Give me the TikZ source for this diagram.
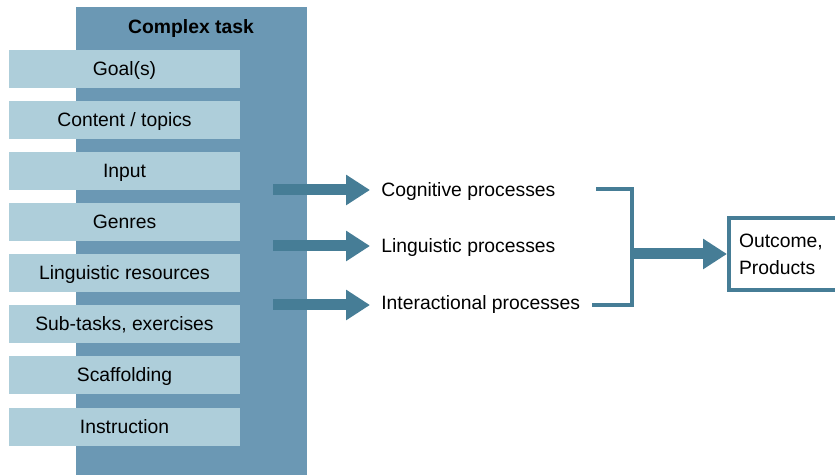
\documentclass[tikz,border=0pt]{standalone}
\usepackage{fontspec}
\setmainfont{Liberation Sans}
\usetikzlibrary{arrows.meta}
\definecolor{bleu}{RGB}{107,152,180}
\definecolor{clair}{RGB}{174,206,218}

\begin{document}
\begin{tikzpicture}[x=0.02cm, y=-0.02cm, anchor=center, font=\fontsize{11pt}{15pt}\selectfont]

		\useasboundingbox (0,0) rectangle (835,475);
		\xdefinecolor{fonce}{RGB}{70,125,150}

		\tikzset{
			item/.style={fill=clair, inner sep=0pt, minimum width=4.62cm, minimum height=0.76cm,
				text height=0.72em, text depth=0pt},
			fleche/.style={line width=0.22cm, fonce, -{Triangle[length=0.48cm,width=0.58cm]}},
			proc/.style={anchor=west, inner sep=0pt, text height=0.72em, text depth=0pt}
		}

		\newcommand{\mkitem}[3]{
			\node[item] (#1) at (124.5,#2) {#3};
		}

		%la colonne
		\fill[bleu] (76,7) rectangle (307,480);
		\node[font=\fontsize{11pt}{13pt}\bfseries, text height=0.72em, text depth=0pt] (titre) at (191,27) {Complex task};

		%les composantes
		\mkitem{goal}{69}{Goal(s)}
		\mkitem{content}{120}{Content / topics}
		\mkitem{input}{171}{Input}
		\mkitem{genres}{222}{Genres}
		\mkitem{resources}{273}{Linguistic resources}
		\mkitem{subtasks}{324}{Sub-tasks, exercises}
		\mkitem{scaffold}{375}{Scaffolding}
		\mkitem{instruct}{427}{Instruction}

		%les processus
		\node[proc] (cog) at (381,190) {Cognitive processes};
		\node[proc] (ling) at (381,246) {Linguistic processes};
		\node[proc] (inter) at (381,303) {Interactional processes};

		\coordinate (d1) at (273,190);
		\coordinate (d2) at (273,246);
		\coordinate (d3) at (273,305);
		\draw[fleche, shorten >=0.22cm] (d1) -- (d1 -| cog.west);
		\draw[fleche, shorten >=0.22cm] (d2) -- (d2 -| ling.west);
		\draw[fleche, shorten >=0.22cm] (d3) -- (d3 -| inter.west);

		%accolade et resultat
		\draw[fonce, line width=0.08cm] (596,189) -- (632,189) -- (632,305) -- (592,305);
		\coordinate (brk) at (632,254);

		\node[draw=fonce, line width=0.08cm, text width=2.0cm, align=left, inner xsep=0.2cm,
			font=\fontsize{11pt}{15.5pt}\selectfont,
			minimum height=1.44cm, anchor=west] (out) at (727,254) {Outcome,\\Products};
		\draw[fleche] (brk) -- (out.west);

\end{tikzpicture}
\end{document}
